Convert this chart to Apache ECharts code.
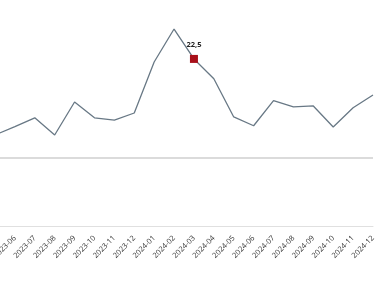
<!DOCTYPE html>
<html><head><meta charset="utf-8">
<script src="https://cdn.jsdelivr.net/npm/echarts@6/dist/echarts.min.js"></script>
<style>html,body{margin:0;padding:0;background:#fff}#c{width:375px;height:300px}</style>
</head><body><div id="c"></div>
<script>
var categories = ['2023-05','2023-06','2023-07','2023-08','2023-09','2023-10','2023-11','2023-12','2024-01','2024-02','2024-03','2024-04','2024-05','2024-06','2024-07','2024-08','2024-09','2024-10','2024-11','2024-12'];
var values = [5.2, 7.1, 9.1, 5.2, 12.7, 9.1, 8.6, 10.2, 21.8, 29.3, 22.5, 18.0, 9.3, 7.3, 13.0, 11.6, 11.8, 7.0, 11.4, 14.3];
var highlightCategory = '2024-03';
var baselineValue = 0;

var hi = categories.indexOf(highlightCategory);
var hiData = values.map(function(v,i){ return i===hi ? v : null; });

var chart = echarts.init(document.getElementById('c'));
chart.setOption({
  animation:false,
  grid:{left:-5, right:2, top:0, bottom:74, containLabel:false, outerBoundsMode:'none'},
  xAxis:{type:'category', data:categories, boundaryGap:false,
    axisLine:{show:true, onZero:false, lineStyle:{color:'#e0e0e0', width:1}},
    axisTick:{show:false},
    axisLabel:{rotate:45, fontSize:7.5, color:'#333', margin:11, interval:0, fontFamily:'Open Sans'},
    splitLine:{show:false}},
  yAxis:{type:'value', min:-15.5, max:35.9, show:false, splitLine:{show:false}},
  series:[
    {type:'line', data:values, symbol:'none', z:2, lineStyle:{color:'#687885', width:1.3},
     markLine:{silent:true, symbol:'none', label:{show:false},
       lineStyle:{color:'#cfcfcf', width:1.5, type:'solid'}, data:[{yAxis:baselineValue}]}},
    {type:'scatter', data:hiData, symbol:'rect', symbolSize:8, z:10,
     itemStyle:{color:'#a8101a', opacity:1},
     label:{show:true, position:'top', distance:6, fontSize:7.5, fontWeight:'bold', color:'#222', fontFamily:'Open Sans',
       formatter:function(p){ return String(p.value).replace('.', ','); }}}
  ]
});
</script></body></html>
